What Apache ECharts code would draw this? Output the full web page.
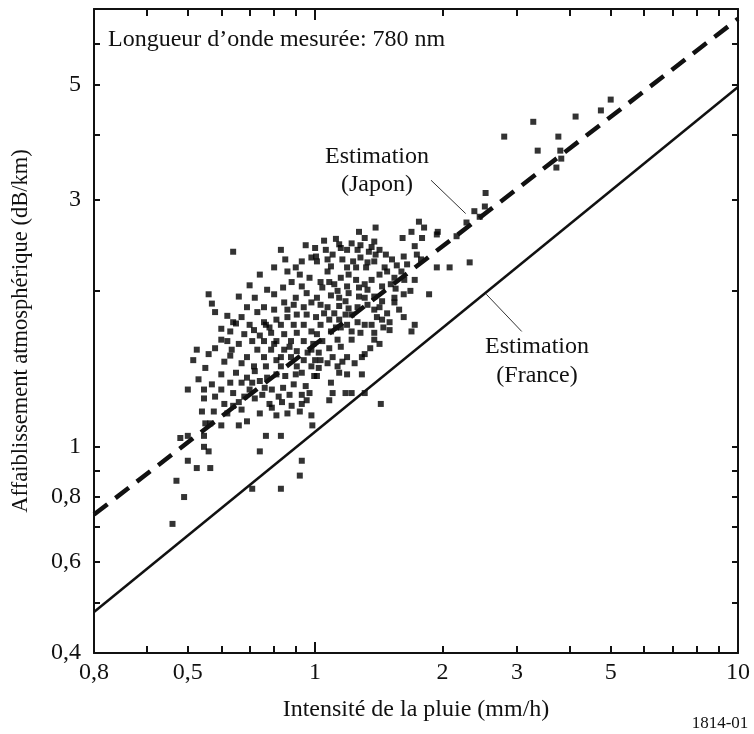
<!DOCTYPE html>
<html><head><meta charset="utf-8">
<script src="https://cdn.jsdelivr.net/npm/echarts@6/dist/echarts.min.js"></script>
<style>html,body{margin:0;padding:0;background:#fff}#c{width:754px;height:734px}</style>
</head><body><div id="c"></div>
<script>
// ---- axis ticks / labels ----
const xRange = [0.3, 10];
const yRange = [0.4, 7];
const xTickValues = [0.3,0.4,0.5,0.6,0.7,0.8,0.9,1,2,3,4,5,6,7,8,9,10];
const xLongTickValues = [1];
const xLabelValues = [0.3,0.5,1,2,3,5,10];
const xLabelTexts = ['0,8','0,5','1','2','3','5','10'];
const yTickValues = [0.4,0.5,0.6,0.7,0.8,0.9,1,2,3,4,5,6,7];
const yLabelValues = [0.4,0.6,0.8,1,3,5];
const yLabelTexts = ['0,4','0,6','0,8','1','3','5'];

// ---- estimation lines (endpoints) ----
const japanLine = [[0.3,0.74],[10,6.7]];
const franceLine = [[0.3,0.48],[10,4.95]];
const japanLeader = [[1.88,3.27],[2.27,2.82]];
const franceLeader = [[2.54,1.97],[3.08,1.67]];

// ---- measured points [rain intensity mm/h, attenuation dB/km] ----
const measured = [
[2.8,3.97],[3.28,4.24],[4.13,4.34],[4.74,4.46],[5.0,4.68],[3.76,3.97],[3.36,3.73],[3.8,3.73],[3.82,3.60],[3.72,3.46],
[2.53,3.09],[2.38,2.85],[2.52,2.91],[2.45,2.78],[2.28,2.71],
[1.27,2.60],[1.39,2.65],[1.69,2.60],[1.76,2.72],[1.81,2.65],[1.95,2.60],
[0.64,2.38],[0.83,2.40],[0.98,2.32],[0.90,2.22],[0.74,2.15],[0.56,1.97],[0.57,1.89],[0.72,1.94],[0.62,1.79],[0.64,1.74],
[0.65,1.73],[0.63,1.67],[0.68,1.65],[0.60,1.61],[0.62,1.60],[0.525,1.54],[0.635,1.54],[0.515,1.47],[0.55,1.42],[0.61,1.46],
[0.77,2.01],[0.80,1.97],[0.84,2.03],[0.88,2.08],[0.93,2.04],[0.955,1.98],[0.757,1.86],[0.80,1.84],[0.845,1.90],[0.89,1.88],
[0.94,1.86],[0.98,1.90],[0.73,1.82],[0.757,1.74],[0.81,1.76],[0.86,1.78],[0.905,1.80],[0.955,1.80],[0.765,1.72],[0.83,1.72],
[0.89,1.72],[0.94,1.72],[0.717,1.68],[0.787,1.66],[0.845,1.65],[0.905,1.66],[0.98,1.67],[0.757,1.60],[0.81,1.60],[0.877,1.60],
[0.94,1.60],[0.73,1.54],[0.787,1.54],[0.845,1.54],[0.905,1.53],[0.98,1.54],[0.69,1.49],[0.757,1.49],[0.81,1.47],[0.877,1.49],
[0.94,1.47],[0.717,1.43],[0.765,1.43],[0.83,1.43],[0.905,1.43],[0.98,1.43],
[1.61,2.53],[1.79,2.53],[1.94,2.57],[2.16,2.55],[1.31,2.53],[1.38,2.49],[1.15,2.42],[1.19,2.40],[1.26,2.40],[1.34,2.38],
[1.39,2.35],[1.06,2.40],[1.10,2.35],[1.14,2.46],[1.72,2.44],[1.74,2.35],[1.78,2.30],[1.94,2.22],[2.08,2.22],[1.86,1.97],
[1.72,1.72],[1.69,1.67],[1.625,2.10],[1.72,2.10],[1.46,2.22],[1.48,2.18],[1.54,2.12],[1.51,2.06],[1.44,2.04],[1.33,2.27],
[1.32,2.22],[1.25,2.22],[1.19,2.22],[1.20,2.15],[1.07,2.30],[1.09,2.23],[1.07,2.18],[1.01,2.28],[1.005,2.33],[1.03,2.08],
[1.04,2.03],[1.11,2.06],[1.19,2.04],[1.20,1.98],[1.31,2.06],[1.33,2.01],[1.27,2.03],[1.01,1.94],[1.03,1.88],[1.07,1.86],
[1.05,1.81],[1.14,1.94],[1.18,1.91],[1.31,1.94],[1.33,1.88],[1.38,1.95],[1.44,1.91],[1.54,1.94],[1.54,1.90],[1.26,1.86],
[1.11,1.81],[1.18,1.80],[1.22,1.80],[1.005,1.78],[1.03,1.72],[1.14,1.76],[1.15,1.70],[1.19,1.72],[1.26,1.74],[1.31,1.72],
[1.36,1.72],[1.40,1.78],[1.48,1.81],[1.50,1.74],[1.50,1.68],[1.38,1.66],[1.01,1.65],[1.04,1.60],[1.13,1.61],[1.22,1.61],
[1.38,1.61],[1.08,1.55],[1.15,1.56],[1.02,1.52],[1.03,1.47],[1.10,1.49],[1.19,1.49],[1.29,1.49],[1.31,1.51],[1.13,1.43],
[0.53,1.35],[0.50,1.29],[0.546,1.29],[0.60,1.29],[0.65,1.39],[0.67,1.33],[0.70,1.29],[0.71,1.33],[0.74,1.34],[0.76,1.30],
[0.81,1.38],[0.85,1.37],[0.90,1.38],[0.93,1.39],[0.995,1.37],[0.79,1.29],[0.87,1.26],[0.546,1.24],[0.54,1.17],[0.576,1.17],
[0.62,1.16],[0.66,1.22],[0.64,1.20],[0.67,1.18],[0.55,1.11],[0.565,1.11],[0.60,1.10],[0.66,1.10],[0.69,1.12],[0.74,1.16],
[0.78,1.21],[0.81,1.15],[0.835,1.22],[0.86,1.16],[0.93,1.26],[0.955,1.23],[0.93,1.21],[0.98,1.15],[0.985,1.10],[0.48,1.04],
[0.50,1.05],[0.546,1.05],[0.546,1.00],[0.56,0.98],[0.50,0.94],[0.525,0.91],[0.565,0.91],[0.765,1.05],[0.83,1.05],[0.74,0.98],
[0.93,0.94],[0.92,0.88],[0.71,0.83],[0.83,0.83],[0.47,0.86],[0.49,0.80],[0.46,0.71],
[1.14,1.39],[1.19,1.38],[1.29,1.38],[1.01,1.37],[1.09,1.33],[1.10,1.27],[1.18,1.27],[1.22,1.27],[1.08,1.23],[1.31,1.27],
[1.43,1.21],[2.32,2.27],
[0.95,2.45],[1.0,2.42],[1.05,2.50],[1.12,2.52],[1.22,2.47],[1.28,2.45],[1.36,2.43],[1.42,2.40],[1.47,2.35],[1.52,2.30],
[1.56,2.24],[1.60,2.18],[1.65,2.25],[1.62,2.33],[1.16,2.30],[1.23,2.28],[1.28,2.32],[1.38,2.28],[1.42,2.15],[1.36,2.10],
[1.25,2.10],[1.15,2.12],[1.08,2.08],[0.97,2.12],[0.92,2.15],[0.86,2.18],[0.80,2.22],[0.85,2.30],[0.93,2.28],
[0.70,2.05],[0.66,1.95],[0.69,1.86],[0.67,1.78],[0.70,1.72],[0.66,1.58],[0.71,1.60],[0.63,1.50],[0.67,1.45],[0.60,1.38],
[0.63,1.33],[0.57,1.32],[0.58,1.25],[0.61,1.21],[0.64,1.27],[0.68,1.25],[0.72,1.24],[0.75,1.26],[0.77,1.36],[0.72,1.40],
[0.69,1.36],[0.84,1.30],[0.89,1.32],[0.95,1.31],[0.97,1.27],[0.82,1.25],[0.79,1.19],[0.88,1.20],[0.92,1.17],
[1.02,1.42],[1.07,1.45],[1.16,1.46],[1.24,1.45],[1.35,1.55],[1.42,1.58],[1.45,1.70],[1.44,1.76],[1.28,1.66],[1.22,1.67],
[1.09,1.67],[1.12,1.70],[1.08,1.76],[1.20,1.85],[1.14,1.87],[1.38,1.84],[1.42,1.86],[1.27,1.95],[1.09,1.96],[1.13,2.00],
[1.55,2.02],[1.62,1.97],[1.68,2.00],[1.58,1.84],[1.62,1.78],
[0.99,1.58],[0.96,1.52],[1.00,1.47],[0.87,1.56],[0.83,1.49],[0.80,1.58],[0.74,1.64],[0.78,1.70],[0.86,1.84],[0.90,1.94],
[0.58,1.55],[0.56,1.51],[0.60,1.69],[0.58,1.82]
];

const L = v => Math.log10(v);
const toLog = arr => arr.map(p => [L(p[0]), L(p[1])]);
const FONT = '"Liberation Serif", "Times New Roman", serif';
const INK = '#111';
const FS = 24;

function labelFor(vals, texts) {
  return function (v) {
    for (let i = 0; i < vals.length; i++) if (Math.abs(L(vals[i]) - v) < 1e-6) return texts[i];
    return '';
  };
}

const baseX = {
  type: 'value', min: L(xRange[0]), max: L(xRange[1]),
  splitLine: { show: false },
  axisLine: { show: true, onZero: false, lineStyle: { color: INK, width: 2 } }
};
const baseY = {
  type: 'value', min: L(yRange[0]), max: L(yRange[1]),
  splitLine: { show: false },
  axisLine: { show: true, onZero: false, lineStyle: { color: INK, width: 2 } }
};
const noLine = { show: false, onZero: false };

const chart = echarts.init(document.getElementById('c'), null, { renderer: 'canvas' });
chart.setOption({
  animation: false,
  backgroundColor: '#fff',
  grid: { left: 94, right: 16, top: 9, bottom: 81, containLabel: false },
  xAxis: [
    Object.assign({}, baseX, {
      position: 'bottom',
      name: 'Intensité de la pluie (mm/h)', nameLocation: 'middle', nameGap: 45,
      nameTextStyle: { fontFamily: FONT, fontSize: FS, color: INK },
      axisTick: { show: true, inside: true, length: 7, customValues: xTickValues.map(L), lineStyle: { color: INK, width: 2 } },
      axisLabel: { show: true, margin: 8, fontFamily: FONT, fontSize: FS, color: INK,
        customValues: xLabelValues.map(L), formatter: labelFor(xLabelValues, xLabelTexts) }
    }),
    Object.assign({}, baseX, {
      position: 'top',
      axisTick: { show: true, inside: true, length: 7, customValues: xTickValues.map(L), lineStyle: { color: INK, width: 2 } },
      axisLabel: { show: false }
    }),
    Object.assign({}, baseX, {
      position: 'bottom', axisLine: noLine,
      axisTick: { show: true, inside: true, length: 11, customValues: xLongTickValues.map(L), lineStyle: { color: INK, width: 2 } },
      axisLabel: { show: false }
    }),
    Object.assign({}, baseX, {
      position: 'top', axisLine: noLine,
      axisTick: { show: true, inside: true, length: 11, customValues: xLongTickValues.map(L), lineStyle: { color: INK, width: 2 } },
      axisLabel: { show: false }
    })
  ],
  yAxis: [
    Object.assign({}, baseY, {
      position: 'left',
      name: 'Affaiblissement atmosphérique (dB/km)', nameLocation: 'middle', nameGap: 61, nameRotate: 90,
      nameTextStyle: { fontFamily: FONT, fontSize: 22.5, color: INK },
      axisTick: { show: true, inside: true, length: 6, customValues: yTickValues.map(L), lineStyle: { color: INK, width: 2 } },
      axisLabel: { show: true, margin: 13, fontFamily: FONT, fontSize: FS, color: INK,
        customValues: yLabelValues.map(L), formatter: labelFor(yLabelValues, yLabelTexts) }
    }),
    Object.assign({}, baseY, {
      position: 'right',
      axisTick: { show: true, inside: true, length: 6, customValues: yTickValues.map(L), lineStyle: { color: INK, width: 2 } },
      axisLabel: { show: false }
    })
  ],
  series: [
    { type: 'scatter', xAxisIndex: 0, yAxisIndex: 0, data: toLog(measured), symbol: 'rect', symbolSize: 6,
      itemStyle: { color: '#000' }, silent: true, z: 3 },
    { type: 'line', xAxisIndex: 0, yAxisIndex: 0, data: toLog(japanLine), showSymbol: false, symbol: 'none',
      lineStyle: { color: INK, width: 4.5, type: [17, 10] }, z: 4 },
    { type: 'line', xAxisIndex: 0, yAxisIndex: 0, data: toLog(franceLine), showSymbol: false, symbol: 'none',
      lineStyle: { color: INK, width: 2.5 }, z: 4 },
    { type: 'line', xAxisIndex: 0, yAxisIndex: 0, data: toLog(japanLeader), showSymbol: false, symbol: 'none',
      lineStyle: { color: '#333', width: 1 }, z: 5 },
    { type: 'line', xAxisIndex: 0, yAxisIndex: 0, data: toLog(franceLeader), showSymbol: false, symbol: 'none',
      lineStyle: { color: '#333', width: 1 }, z: 5 }
  ],
  graphic: [
    { type: 'text', x: 108, y: 40, style: { text: 'Longueur d’onde mesurée: 780 nm', font: FS + 'px ' + FONT, fill: INK, align: 'left', verticalAlign: 'middle' } },
    { type: 'text', x: 377, y: 157, style: { text: 'Estimation', font: FS + 'px ' + FONT, fill: INK, align: 'center', verticalAlign: 'middle' } },
    { type: 'text', x: 377, y: 185, style: { text: '(Japon)', font: FS + 'px ' + FONT, fill: INK, align: 'center', verticalAlign: 'middle' } },
    { type: 'text', x: 537, y: 347, style: { text: 'Estimation', font: FS + 'px ' + FONT, fill: INK, align: 'center', verticalAlign: 'middle' } },
    { type: 'text', x: 537, y: 376, style: { text: '(France)', font: FS + 'px ' + FONT, fill: INK, align: 'center', verticalAlign: 'middle' } },
    { type: 'text', x: 720, y: 724, style: { text: '1814-01', font: '17px ' + FONT, fill: INK, align: 'center', verticalAlign: 'middle' } }
  ]
});
</script>
</body></html>
